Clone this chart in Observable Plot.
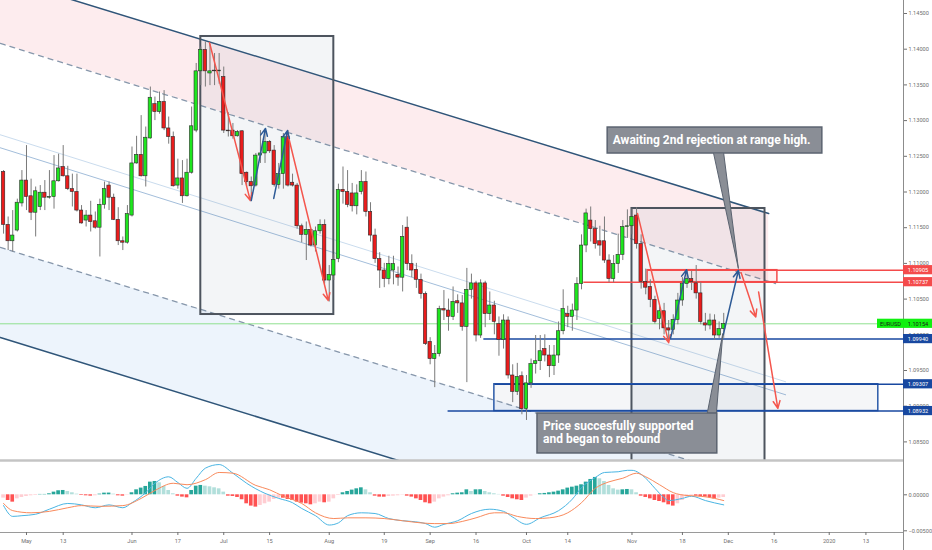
<!DOCTYPE html>
<html><head><meta charset="utf-8">
<script src="https://cdn.jsdelivr.net/npm/d3@7"></script>
<script src="https://cdn.jsdelivr.net/npm/@observablehq/plot@0.6"></script>
<style>
html,body{margin:0;padding:0;background:#fff;}
#chart{width:932px;height:550px;overflow:hidden;}
#chart svg{display:block;}
</style></head><body><div id="chart"></div>
<script>
// ---------- DATA (EURUSD daily, trading-day index 0 = 24 Apr 2019) ----------
const open = [1.1228,1.1154,1.1131,1.1146,1.1184,1.1216,1.1194,1.1171,1.1179,1.1199,1.1192,1.1193,1.1215,1.1235,1.1222,1.1204,1.1200,1.1174,1.1160,1.1167,1.1159,1.1150,1.1182,1.1209,1.1192,1.1161,1.1131,1.1129,1.1167,1.1240,1.1252,1.1222,1.1275,1.1323,1.1312,1.1326,1.1289,1.1277,1.1209,1.1219,1.1194,1.1227,1.1286,1.1369,1.1399,1.1366,1.1370,1.1369,1.1361,1.1286,1.1286,1.1278,1.1285,1.1227,1.1214,1.1209,1.1251,1.1254,1.1270,1.1258,1.1210,1.1225,1.1277,1.1213,1.1209,1.1152,1.1140,1.1147,1.1125,1.1145,1.1154,1.1076,1.1083,1.1106,1.1203,1.1200,1.1198,1.1180,1.1200,1.1214,1.1172,1.1139,1.1106,1.1090,1.1078,1.1090,1.1084,1.1080,1.1150,1.1099,1.1091,1.1077,1.1057,1.0990,1.0966,1.0973,1.1036,1.1034,1.1025,1.1047,1.1044,1.1011,1.1063,1.1072,1.0999,1.1072,1.1029,1.1041,1.1015,1.0993,1.1020,1.0943,1.0920,1.0942,1.0896,1.0932,1.0959,1.0963,1.0980,1.0971,1.0956,1.0971,1.1005,1.1029,1.1025,1.1034,1.1071,1.1125,1.1160,1.1148,1.1131,1.1131,1.1104,1.1078,1.1099,1.1112,1.1151,1.1152,1.1167,1.1127,1.1074,1.1067,1.1049,1.1022,1.1033,1.1009,1.1007,1.1021,1.1048,1.1071,1.1078,1.1072,1.1058,1.1016,1.1013,1.1020,1.0999,1.1008];
const high = [1.1230,1.1165,1.1174,1.1190,1.1230,1.1265,1.1218,1.1207,1.1209,1.1216,1.1230,1.1251,1.1253,1.1265,1.1236,1.1225,1.1225,1.1181,1.1174,1.1187,1.1172,1.1190,1.1214,1.1214,1.1197,1.1178,1.1137,1.1181,1.1263,1.1278,1.1307,1.1291,1.1347,1.1333,1.1340,1.1342,1.1305,1.1284,1.1246,1.1244,1.1246,1.1319,1.1380,1.1403,1.1410,1.1407,1.1394,1.1394,1.1375,1.1311,1.1296,1.1286,1.1286,1.1228,1.1221,1.1254,1.1286,1.1286,1.1272,1.1265,1.1240,1.1282,1.1286,1.1225,1.1212,1.1155,1.1158,1.1148,1.1151,1.1161,1.1161,1.1097,1.1112,1.1211,1.1235,1.1230,1.1212,1.1210,1.1230,1.1228,1.1185,1.1148,1.1115,1.1100,1.1110,1.1110,1.1095,1.1153,1.1165,1.1112,1.1100,1.1085,1.1060,1.0996,1.0985,1.1040,1.1062,1.1050,1.1067,1.1056,1.1055,1.1093,1.1085,1.1075,1.1077,1.1075,1.1060,1.1047,1.1025,1.1028,1.1025,1.0958,1.0960,1.0948,1.0943,1.0966,1.0999,1.0999,1.1000,1.0985,1.0985,1.1018,1.1063,1.1040,1.1043,1.1080,1.1140,1.1176,1.1179,1.1160,1.1152,1.1165,1.1112,1.1111,1.1141,1.1160,1.1175,1.1176,1.1178,1.1140,1.1092,1.1077,1.1054,1.1040,1.1044,1.1020,1.1028,1.1058,1.1080,1.1090,1.1089,1.1097,1.1073,1.1030,1.1029,1.1028,1.1018,1.1030];
const low = [1.1141,1.1118,1.1116,1.1144,1.1179,1.1174,1.1160,1.1137,1.1174,1.1174,1.1190,1.1176,1.1214,1.1221,1.1202,1.1179,1.1172,1.1155,1.1151,1.1144,1.1148,1.1109,1.1176,1.1174,1.1160,1.1125,1.1118,1.1127,1.1165,1.1239,1.1221,1.1207,1.1274,1.1300,1.1309,1.1286,1.1267,1.1207,1.1204,1.1184,1.1193,1.1225,1.1283,1.1349,1.1347,1.1349,1.1349,1.1351,1.1282,1.1277,1.1274,1.1277,1.1209,1.1207,1.1197,1.1207,1.1240,1.1240,1.1254,1.1207,1.1204,1.1204,1.1207,1.1207,1.1148,1.1129,1.1104,1.1123,1.1116,1.1141,1.1071,1.1046,1.1076,1.1101,1.1183,1.1178,1.1172,1.1168,1.1196,1.1165,1.1130,1.1100,1.1065,1.1066,1.1070,1.1070,1.1068,1.1060,1.1090,1.1080,1.1065,1.1050,1.0985,1.0958,1.0926,1.0969,1.1020,1.1005,1.1020,1.1030,1.1005,1.0933,1.1050,1.0990,1.0995,1.1010,1.1020,1.1000,1.0970,1.0980,1.0938,1.0905,1.0915,1.0888,1.0880,1.0925,1.0945,1.0950,1.0962,1.0940,1.0943,1.0960,1.1000,1.1010,1.1005,1.1020,1.1063,1.1115,1.1130,1.1120,1.1110,1.1100,1.1073,1.1073,1.1086,1.1104,1.1135,1.1140,1.1120,1.1064,1.1056,1.1038,1.1015,1.1007,1.1000,1.0990,1.1000,1.1014,1.1040,1.1065,1.1062,1.1050,1.1014,1.1005,1.1007,1.0992,1.0995,1.0995];
const close = [1.1154,1.1131,1.1139,1.1185,1.1216,1.1193,1.1171,1.1201,1.1199,1.1192,1.1193,1.1215,1.1233,1.1222,1.1204,1.1200,1.1174,1.1156,1.1167,1.1158,1.1150,1.1182,1.1204,1.1192,1.1161,1.1131,1.1129,1.1169,1.1240,1.1252,1.1222,1.1276,1.1332,1.1312,1.1326,1.1289,1.1277,1.1208,1.1219,1.1194,1.1227,1.1292,1.1369,1.1399,1.1369,1.1369,1.1369,1.1370,1.1286,1.1285,1.1278,1.1284,1.1225,1.1214,1.1208,1.1251,1.1254,1.1270,1.1257,1.1210,1.1225,1.1277,1.1209,1.1209,1.1152,1.1140,1.1147,1.1125,1.1145,1.1154,1.1076,1.1084,1.1105,1.1203,1.1200,1.1182,1.1180,1.1198,1.1214,1.1172,1.1139,1.1106,1.1090,1.1078,1.1099,1.1099,1.1080,1.1137,1.1099,1.1090,1.1077,1.1057,1.0987,1.0966,1.0973,1.1036,1.1034,1.1025,1.1046,1.1044,1.1011,1.1063,1.1072,1.0999,1.1072,1.1029,1.1041,1.1018,1.0993,1.1020,1.0943,1.0920,1.0941,1.0896,1.0932,1.0959,1.0963,1.0977,1.0971,1.0956,1.0971,1.1005,1.1036,1.1025,1.1034,1.1071,1.1125,1.1170,1.1148,1.1127,1.1125,1.1104,1.1078,1.1099,1.1112,1.1151,1.1152,1.1165,1.1127,1.1074,1.1066,1.1049,1.1018,1.1033,1.1009,1.1006,1.1021,1.1048,1.1071,1.1078,1.1074,1.1058,1.1018,1.1013,1.1020,1.0999,1.1008,1.1015];

// MACD histogram, one value per bar
const hist = [-0.00046,-0.00079,-0.00102,-0.00056,-0.00037,-0.00023,-0.00014,-0.00009,0.00005,0.00005,0.00014,0.00037,0.00056,0.00060,0.00046,0.00028,0.00009,-0.00009,-0.00014,-0.00019,-0.00014,0.00009,0.00023,0.00024,0.00009,-0.00014,-0.00019,-0.00005,0.00028,0.00069,0.00093,0.00116,0.00176,0.00185,0.00167,0.00116,0.00060,0.00014,-0.00019,-0.00032,-0.00042,0.00060,0.00120,0.00130,0.00120,0.00111,0.00097,0.00083,0.00037,-0.00019,-0.00023,-0.00037,-0.00069,-0.00125,-0.00157,-0.00171,-0.00148,-0.00125,-0.00102,-0.00065,-0.00046,-0.00047,-0.00065,-0.00079,-0.00102,-0.00116,-0.00125,-0.00139,-0.00125,-0.00102,-0.00111,-0.00102,-0.00056,-0.00009,0.00028,0.00046,0.00065,0.00083,0.00097,0.00069,0.00028,-0.00019,-0.00032,-0.00033,-0.00023,-0.00019,-0.00014,-0.00005,-0.00019,-0.00032,-0.00056,-0.00079,-0.00111,-0.00125,-0.00102,-0.00056,-0.00032,-0.00014,0.00014,0.00023,0.00028,0.00069,0.00046,0.00069,0.00070,0.00046,0.00028,0.00014,0.00005,-0.00019,-0.00037,-0.00056,-0.00069,-0.00079,-0.00046,-0.00019,-0.00002,0.00014,0.00019,0.00028,0.00037,0.00051,0.00069,0.00093,0.00106,0.00120,0.00139,0.00176,0.00213,0.00241,0.00222,0.00185,0.00130,0.00083,0.00065,0.00069,0.00074,0.00069,0.00028,-0.00019,-0.00037,-0.00056,-0.00079,-0.00093,-0.00111,-0.00139,-0.00157,-0.00125,-0.00079,-0.00032,-0.00009,-0.00019,-0.00028,-0.00032,-0.00042,-0.00056,-0.00046,-0.00037];
// MACD line and signal line, read at bar indices
const macdIdx = [0,2,4,7,10,14,17,20,23,26,28,31,33,36,38,40,42,44,47,50,53,57,60,63,65,68,71,73,75,78,81,84,87,89,92,94,96,99,102,106,109,111,114,117,121,124,126,129,131,134,136,137,140,142,144,145,148,150,153,157];
const macdVal = [-0.0015,-0.0030,-0.0029,-0.0027,-0.0020,-0.0012,-0.0014,-0.0018,-0.0014,-0.0018,-0.0011,0.0003,0.0016,0.0025,0.0017,0.0009,0.0023,0.0037,0.0042,0.0030,0.0016,0.0002,-0.0005,-0.0011,-0.0019,-0.0029,-0.0042,-0.0039,-0.0029,-0.0025,-0.0026,-0.0033,-0.0036,-0.0037,-0.0040,-0.0045,-0.0041,-0.0036,-0.0026,-0.0020,-0.0023,-0.0031,-0.0041,-0.0032,-0.0022,-0.0006,0.0010,0.0024,0.0031,0.0032,0.0034,0.0034,0.0023,0.0009,-0.0004,-0.0008,-0.0005,-0.0002,-0.0008,-0.0014];
const sigIdx = [0,2,6,10,14,17,21,26,30,33,37,40,44,47,50,55,58,61,65,68,72,75,79,83,87,91,94,97,100,103,107,109,112,116,119,123,126,129,132,135,138,140,143,146,149,152,155,157];
const sigVal = [-0.0012,-0.0022,-0.0025,-0.0023,-0.0018,-0.0015,-0.0016,-0.0015,-0.0005,0.0006,0.0016,0.0014,0.0021,0.0031,0.0030,0.0013,0.0007,-0.0002,-0.0012,-0.0025,-0.0033,-0.0032,-0.0032,-0.0033,-0.0036,-0.0039,-0.0040,-0.0040,-0.0037,-0.0032,-0.0025,-0.0025,-0.0030,-0.0033,-0.0032,-0.0025,-0.0011,0.0009,0.0018,0.0023,0.0030,0.0025,0.0014,0.0003,-0.0001,-0.0002,-0.0005,-0.0008];

// axis ticks
const priceTicks = [1.085,1.09,1.095,1.10,1.105,1.11,1.115,1.12,1.125,1.13,1.135,1.14,1.145];
const macdTicks = [0, -0.005];
const dateTickIdx = [5,13,28,38,48,58,71,83,93,103,114,123,137,148,158,168,180,188];
const dateTickLabel = ["May","13","Jun","17","Jul","15","Aug","19","Sep","16","Oct","14","Nov","18","Dec","16","2020","13"];

// drawings (bar index, price)
const bandPinkIdx = [-0.7, 166.8], bandPinkTop = [1.15001, 1.11698], bandPinkBot = [1.14080, 1.10747];
const bandBlueIdx = [-0.7, 168.3], bandBlueTop = [1.11223, 1.07868], bandBlueBot = [1.09962, 1.06607];
const chanTopIdx = [-0.7, 166.8], chanTopPx = [1.15001, 1.11698];
const chanUpDashIdx = [-0.7, 168.3], chanUpDashPx = [1.14080, 1.10717];
const chanLowDashIdx = [-0.7, 168.3], chanLowDashPx = [1.11223, 1.07868];
const chanBotIdx = [-0.7, 90], chanBotPx = [1.09962, 1.08162];
const midAIdx = [-0.7, 170.5], midAPx = [1.12801, 1.09342];
const midBIdx = [-0.7, 170.5], midBPx = [1.12619, 1.09160];
const boxIdx1 = [43, 137], boxIdx2 = [72, 166];
const boxPx1 = [1.14178, 1.11769], boxPx2 = [1.10284, 1.07800];
const levelPx = [1.10905, 1.10737, 1.09940, 1.09307, 1.08932];
const levelFrom = [140.4, 126.4, 104.6, 107.0, 96.8];
const levelKind = ["res","res","sup","sup","sup"];
const lastPrice = 1.10154;
const redZone = {i1: 140.4, i2: 168.7, p1: 1.10737, p2: 1.10905};
const blueZone = {i1: 107.0, i2: 190.7, p1: 1.08932, p2: 1.09307};
const arrowsRed = [[44.9,1.1409,53.8,1.1188],[61.9,1.1283,70.8,1.1048],[138.2,1.1170,145.0,1.0989],[160.8,1.1087,164.0,1.1025],[164.6,1.1060,168.8,1.0897]];
const arrowsBlue = [[54.0,1.1188,57.1,1.1289],[58.9,1.1191,61.9,1.1286],[145.4,1.0995,148.9,1.1091],[156.9,1.1000,160.2,1.1090]];
const note1 = {text:"Awaiting 2nd rejection at range high.", i1:131.7, i2:178.5, p1:1.12539, p2:1.12903, tx:132.8, ty:1.12721};
const note1Tail = [[154.8,1.12539],[160.2,1.10929],[157.0,1.12539]];
const note2 = {lines:["Price succesfully supported","and began to rebound"], i1:116.4, i2:155.6, p1:1.08338, p2:1.08898, tx:117.6, ty:[1.08716,1.08541]};
const note2Tail = [[153.4,1.08898],[156.8,1.10018],[155.4,1.08898]];

// ---------- LAYOUT ----------
const W = 932, axisX = 903, mainH = 460, macdH = 90;
const pxPerIdx = 4.587, firstBarPx = 3.06;
const xMin = -firstBarPx / pxPerIdx, xMax = (axisX - firstBarPx) / pxPerIdx;
const yMin = 1.082395, yMax = 1.146821;
const pxPerPrice = mainH / (yMax - yMin);
const mMax = 0.004764, mMin = -0.005236, macdPlotH = 72;
const pxPerM = macdPlotH / (mMax - mMin);

const GREEN = "#1ee61e", RED = "#ea1c1c";
const candles = open.map((o, i) => ({i, o, h: high[i], l: low[i], c: close[i]}));
const seg = (I, P) => I.map((x, k) => ({x, y: P[k]}));
const font = "Roboto, 'DejaVu Sans', sans-serif";
const lblW = 29 / pxPerIdx, lblH = 4.6 / pxPerPrice;

const levelColor = k => k === "res" ? "#f44b4b" : "#1848a0";
const levels = levelPx.map((p, k) => ({p, from: levelFrom[k], to: xMax, color: levelColor(levelKind[k])}));
const boxes = [0, 1].map(k => ({i1: boxIdx1[k], i2: boxIdx2[k], p1: boxPx2[k], p2: boxPx1[k]}));

const main = Plot.plot({
  width: W, height: mainH, marginLeft: 0, marginRight: W - axisX, marginTop: 0, marginBottom: 0,
  x: {domain: [xMin, xMax], range: [0, axisX], axis: null},
  y: {domain: [yMin, yMax], range: [mainH, 0]},
  color: {type: "identity"},
  style: {fontFamily: font, background: "#fff", overflow: "visible"},
  marks: [
    // channel bands
    Plot.areaY([0, 1], {x: k => bandPinkIdx[k], y1: k => bandPinkBot[k], y2: k => bandPinkTop[k], fill: "#fdecee", clip: true}),
    Plot.areaY([0, 1], {x: k => bandBlueIdx[k], y1: k => bandBlueBot[k], y2: k => bandBlueTop[k], fill: "#edf4fc", clip: true}),
    Plot.line(seg(midAIdx, midAPx), {x: "x", y: "y", stroke: "#cadcee", strokeWidth: 1, clip: true}),
    Plot.line(seg(midBIdx, midBPx), {x: "x", y: "y", stroke: "#a3bedb", strokeWidth: 1, clip: true}),
    Plot.line(seg(chanUpDashIdx, chanUpDashPx), {x: "x", y: "y", stroke: "#8797ab", strokeWidth: 1.3, strokeDasharray: "5,5", clip: true}),
    Plot.line(seg(chanLowDashIdx, chanLowDashPx), {x: "x", y: "y", stroke: "#8797ab", strokeWidth: 1.3, strokeDasharray: "5,5", clip: true}),
    Plot.line(seg(chanTopIdx, chanTopPx), {x: "x", y: "y", stroke: "#2f5579", strokeWidth: 1.5, clip: true}),
    Plot.line(seg(chanBotIdx, chanBotPx), {x: "x", y: "y", stroke: "#2f5579", strokeWidth: 1.5, clip: true}),
    // range boxes
    Plot.rect(boxes, {x1: "i1", x2: "i2", y1: "p1", y2: "p2", fill: "#5a6e8c", fillOpacity: 0.07, stroke: "#4d545e", strokeWidth: 2, clip: true}),
    // zones
    Plot.rect([blueZone], {x1: "i1", x2: "i2", y1: "p1", y2: "p2", fill: "#5a6e8c", fillOpacity: 0.06, stroke: "#2a5aa8", strokeWidth: 1.5}),
    Plot.rect([redZone], {x1: "i1", x2: "i2", y1: "p1", y2: "p2", fill: "#ff5252", fillOpacity: 0.08, stroke: "#f44b4b", strokeWidth: 1.5}),
    Plot.link(levels, {x1: "from", x2: "to", y1: "p", y2: "p", stroke: "color", strokeWidth: 1.5}),
    Plot.ruleY([lastPrice], {stroke: "#8fe08f", strokeWidth: 1}),
    // candles
    Plot.ruleX(candles, {x: "i", y1: "l", y2: "h", stroke: "#7a7a7a", strokeWidth: 1}),
    Plot.rect(candles, {x1: d => d.i - 0.37, x2: d => d.i + 0.37,
      y1: d => Math.min(d.o, d.c), y2: d => Math.max(d.o, d.c) + (Math.abs(d.o - d.c) < 0.00008 ? 0.00008 : 0),
      fill: d => d.c >= d.o ? GREEN : RED, stroke: "#2a2a2a", strokeWidth: 0.6}),
    // arrows
    Plot.arrow(arrowsRed, {x1: d => d[0], y1: d => d[1], x2: d => d[2], y2: d => d[3], stroke: "#f4564d", strokeWidth: 1.5, headLength: 8, headAngle: 50, clip: true}),
    Plot.arrow(arrowsBlue, {x1: d => d[0], y1: d => d[1], x2: d => d[2], y2: d => d[3], stroke: "#2d5a96", strokeWidth: 1.5, headLength: 8, headAngle: 50, clip: true}),
    // callouts
    Plot.line(note1Tail, {x: d => d[0], y: d => d[1], fill: "#8a8e96", stroke: "#5b6370", strokeWidth: 1}),
    Plot.rect([note1], {x1: "i1", x2: "i2", y1: "p1", y2: "p2", fill: "#8a8e96", stroke: "#5b6370", strokeWidth: 1.5, ariaLabel: "callout"}),
    Plot.text([note1], {x: "tx", y: "ty", text: "text", textAnchor: "start", fill: "#fff", fontSize: 12, fontWeight: "bold"}),
    Plot.line(note2Tail, {x: d => d[0], y: d => d[1], fill: "#8a8e96", stroke: "#5b6370", strokeWidth: 1}),
    Plot.rect([note2], {x1: "i1", x2: "i2", y1: "p1", y2: "p2", fill: "#8a8e96", stroke: "#5b6370", strokeWidth: 1.5, ariaLabel: "callout"}),
    Plot.text(note2.lines.map((t, k) => ({t, x: note2.tx, y: note2.ty[k]})), {x: "x", y: "y", text: "t", textAnchor: "start", fill: "#fff", fontSize: 12, fontWeight: "bold"}),
    // right axis
    Plot.ruleX([xMax], {stroke: "#8c8c8c", strokeWidth: 1}),
    Plot.axisY(priceTicks, {anchor: "right", tickFormat: d3.format(".5f"), tickSize: 3, tickPadding: 2, fontSize: 5.6, color: "#707070", label: null}),
    // price labels
    Plot.rect(levels, {x1: d => xMax, x2: d => xMax + lblW, y1: d => d.p - lblH, y2: d => d.p + lblH, fill: "color"}),
    Plot.text(levels, {x: d => xMax + lblW / 2, y: "p", text: d => d3.format(".5f")(d.p), fill: "#fff", fontSize: 5.6}),
    Plot.rect([lastPrice], {x1: d => xMax - 26 / pxPerIdx, x2: d => xMax + lblW, y1: d => d - lblH, y2: d => d + lblH, fill: "#10f010"}),
    Plot.text([lastPrice], {x: d => xMax + lblW / 2, y: d => d, text: d => d3.format(".5f")(d), fill: "#1a1a1a", fontSize: 5.6}),
    Plot.text(["EURUSD"], {x: d => xMax - 13 / pxPerIdx, y: d => lastPrice, text: d => d, fill: "#1a1a1a", fontSize: 5.6})
  ]
});

const histData = hist.map((v, i) => {
  const prev = i > 0 ? hist[i - 1] : v;
  const color = v >= 0 ? (v >= prev ? "#26a69a" : "#b2dfdb") : (v < prev ? "#ff5252" : "#ffcdd2");
  return {i, v, color};
});
const tickLabel = new Map(dateTickIdx.map((d, k) => [d, dateTickLabel[k]]));

const macd = Plot.plot({
  width: W, height: macdH, marginLeft: 0, marginRight: W - axisX, marginTop: 0, marginBottom: macdH - macdPlotH,
  x: {domain: [xMin, xMax], range: [0, axisX]},
  y: {domain: [mMin, mMax], range: [macdPlotH, 0]},
  color: {type: "identity"},
  style: {fontFamily: font, background: "#fff", overflow: "visible"},
  marks: [
    Plot.ruleY([mMax], {stroke: "#c4c4c4", strokeWidth: 2.5}),
    Plot.rect(histData, {x1: d => d.i - 0.4, x2: d => d.i + 0.4, y1: d => 0, y2: "v", fill: "color"}),
    Plot.line(macdIdx.map((x, k) => [x, macdVal[k]]), {x: d => d[0], y: d => d[1], stroke: "#4ab5e3", strokeWidth: 1, curve: "monotone-x"}),
    Plot.line(sigIdx.map((x, k) => [x, sigVal[k]]), {x: d => d[0], y: d => d[1], stroke: "#f98a5c", strokeWidth: 1, curve: "monotone-x"}),
    Plot.ruleY([mMin], {stroke: "#9a9a9a", strokeWidth: 1}),
    Plot.ruleX([xMax], {y1: d => mMax, y2: d => mMin - (macdH - macdPlotH) / pxPerM, stroke: "#8c8c8c", strokeWidth: 1}),
    Plot.axisY(macdTicks, {anchor: "right", tickFormat: d3.format(".5f"), tickSize: 3, tickPadding: 2, fontSize: 5.6, color: "#707070", label: null}),
    Plot.axisX(dateTickIdx, {anchor: "bottom", tickFormat: d => tickLabel.get(d), tickSize: 3, tickPadding: 4, fontSize: 5.6, color: "#707070", label: null})
  ]
});

const root = document.getElementById("chart");
root.appendChild(main);
root.appendChild(macd);
d3.select(main).selectAll('g[aria-label="callout"] rect').attr("rx", 4).attr("ry", 4);
</script></body></html>
